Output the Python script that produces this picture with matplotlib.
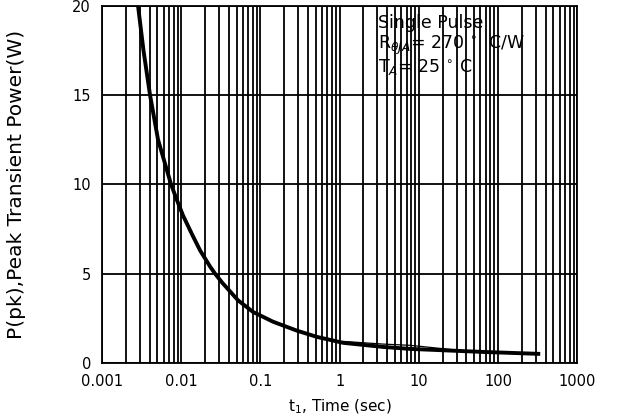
import matplotlib
matplotlib.use("Agg")
import matplotlib.pyplot as plt
from matplotlib.ticker import LogLocator, FixedLocator, FixedFormatter, NullFormatter

plt.rcParams['font.family'] = ['DejaVu Sans']

# Main (thick) curve: pulse time (s) vs peak transient power (W)
time_s = [0.00285, 0.00334, 0.00404, 0.0051, 0.00744, 0.00886, 0.01055, 0.0137,
          0.0173, 0.0231, 0.0267, 0.0328, 0.0522, 0.0808, 0.145, 0.29, 0.52,
          1.11, 3.54, 7.77, 65, 341]
power_w = [20, 17.5, 15, 12.5, 10, 9.1, 8.25, 7.2,
           6.3, 5.4, 5.0, 4.5, 3.5, 2.85, 2.3, 1.8, 1.45,
           1.12, 0.89, 0.78, 0.61, 0.5]

# Thin secondary trace near the tail
time_thin = [1.11, 3.54, 7.77, 25]
power_thin = [1.2, 1.05, 0.98, 0.75]

xticks = [0.001, 0.01, 0.1, 1, 10, 100, 1000]
xtick_labels = ["0.001", "0.01", "0.1", "1", "10", "100", "1000"]
yticks = [0, 5, 10, 15, 20]
ytick_labels = ["0", "5", "10", "15", "20"]

fig = plt.figure(figsize=(6.22, 4.18), dpi=100)
ax = fig.add_axes([0.164, 0.132, 0.764, 0.854])

ax.set_xscale('log')
ax.set_xlim(0.001, 1000)
ax.set_ylim(0, 20)

ax.xaxis.set_major_locator(FixedLocator(xticks))
ax.xaxis.set_major_formatter(FixedFormatter(xtick_labels))
ax.xaxis.set_minor_locator(LogLocator(base=10, subs=range(2, 10), numticks=100))
ax.xaxis.set_minor_formatter(NullFormatter())
ax.yaxis.set_major_locator(FixedLocator(yticks))
ax.yaxis.set_major_formatter(FixedFormatter(ytick_labels))

ax.grid(True, which='both', axis='x', color='black', linewidth=1.3)
ax.grid(True, which='major', axis='y', color='black', linewidth=1.3)
ax.set_axisbelow(True)

for s in ax.spines.values():
    s.set_color('black')
    s.set_linewidth(1.3)

ax.tick_params(axis='both', which='both', length=0, labelsize=10.5, pad=8, colors='black')

ax.plot(time_s, power_w, color='black', linewidth=2.8, solid_capstyle='butt',
        solid_joinstyle='round', zorder=3)
ax.plot(time_thin, power_thin, color='black', linewidth=0.9, zorder=3)

ax.set_xlabel("t$_1$, Time (sec)", fontsize=11, labelpad=6)
ax.set_ylabel("P(pk),Peak Transient Power(W)", fontsize=14.5, labelpad=33)

ax.text(0.581, 0.953, "Single Pulse", transform=ax.transAxes, fontsize=12.5,
        va='center', ha='left', color='black')
ax.text(0.581, 0.890, r"R$_{\theta JA}$= 270 $^{\circ}$  C/W", transform=ax.transAxes,
        fontsize=12.5, va='center', ha='left', color='black')
ax.text(0.581, 0.830, r"T$_A$= 25 $^{\circ}$ C", transform=ax.transAxes, fontsize=12.5,
        va='center', ha='left', color='black')

fig.savefig("out.png", dpi=100, facecolor='white')
